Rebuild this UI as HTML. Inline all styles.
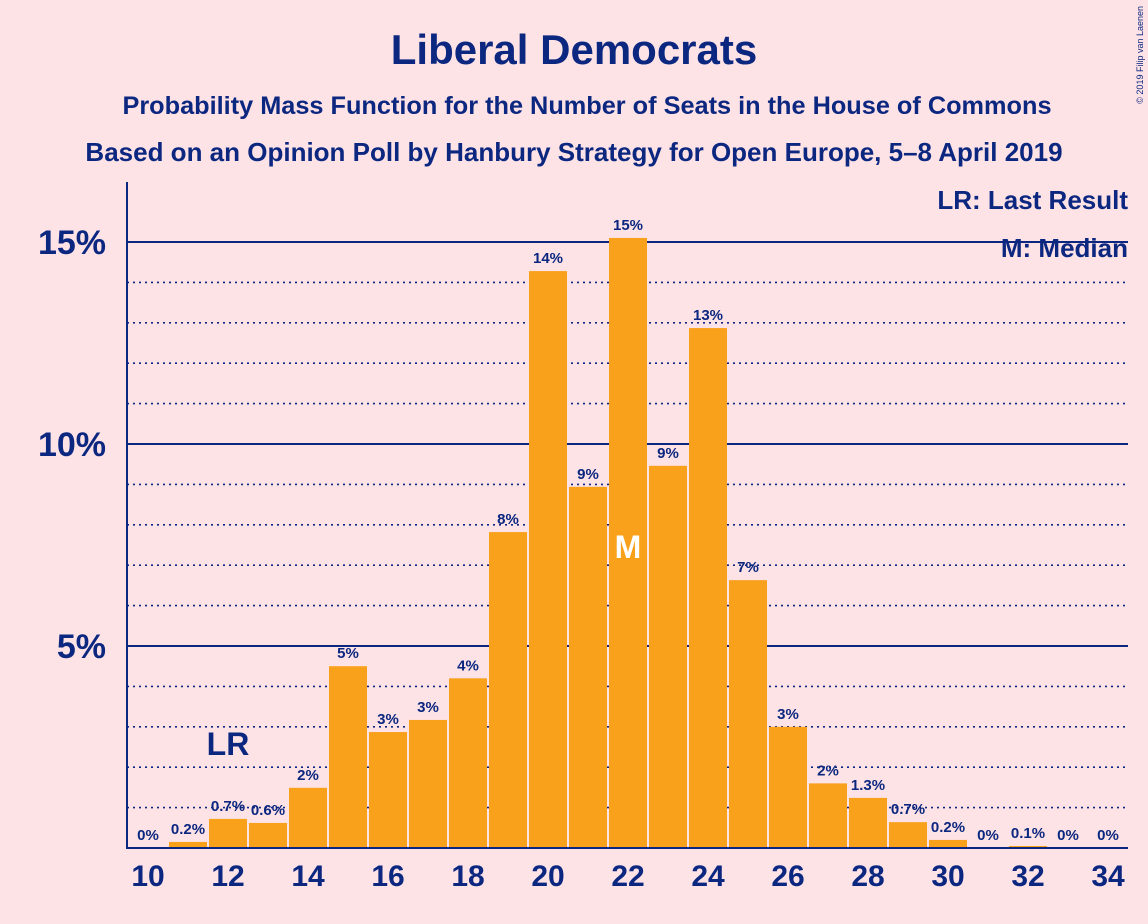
<!DOCTYPE html>
<html><head><meta charset="utf-8"><style>
body{margin:0;background:#fde3e6;}
svg{display:block;font-family:"Liberation Sans",sans-serif;}
</style></head><body>
<svg id="chart" width="1148" height="924" viewBox="0 0 1148 924">
<rect width="1148" height="924" fill="#fde3e6"/>
<text x="574" y="64" text-anchor="middle" font-size="42" font-weight="bold" fill="#0c2780">Liberal Democrats</text>
<text x="587" y="114" text-anchor="middle" font-size="25.3" font-weight="bold" fill="#0c2780">Probability Mass Function for the Number of Seats in the House of Commons</text>
<text x="574" y="161" text-anchor="middle" font-size="26" font-weight="bold" fill="#0c2780">Based on an Opinion Poll by Hanbury Strategy for Open Europe, 5–8 April 2019</text>
<text x="1143" y="6" transform="rotate(-90 1143 6)" text-anchor="end" font-size="9" fill="#0c2780">© 2019 Filip van Laenen</text>
<g id="grid"></g>
<g id="bars"></g>
<g id="labels"></g>
<line x1="127" y1="182" x2="127" y2="849" stroke="#0c2780" stroke-width="2"/>
<line x1="126" y1="848" x2="1128" y2="848" stroke="#0c2780" stroke-width="2"/>
<text x="1128" y="209" text-anchor="end" font-size="26" font-weight="bold" fill="#0c2780">LR: Last Result</text>
<text x="1128" y="257" text-anchor="end" font-size="26" font-weight="bold" fill="#0c2780">M: Median</text>
</svg>
<script>
const seats=[10,11,12,13,14,15,16,17,18,19,20,21,22,23,24,25,26,27,28,29,30,31,32,33,34];
const probs=[0,0.15,0.72,0.62,1.49,4.5,2.87,3.17,4.2,7.82,14.28,8.94,15.1,9.46,12.87,6.63,3.0,1.6,1.24,0.64,0.2,0,0.05,0,0];
const valueLabels=["0%","0.2%","0.7%","0.6%","2%","5%","3%","3%","4%","8%","14%","9%","15%","9%","13%","7%","3%","2%","1.3%","0.7%","0.2%","0%","0.1%","0%","0%"];
const yTicks=[5,10,15];
const xTickSeats=[10,12,14,16,18,20,22,24,26,28,30,32,34];
const lastResult=12, median=22;
const NS="http://www.w3.org/2000/svg";
const x=s=>148+(s-10)*40;
const y=v=>848-v*40.4;
function mk(tag,attrs,parent,txt){const e=document.createElementNS(NS,tag);for(const k in attrs)e.setAttribute(k,attrs[k]);if(txt!==undefined)e.textContent=txt;document.getElementById(parent).appendChild(e);return e;}
const C="#0c2780";
for(let p=1;p<=15;p++){
  const major=p%5===0;
  const l=mk('line',{x1:127,x2:1128,y1:y(p),y2:y(p),stroke:C,'stroke-width':major?2:1.6,'stroke-dasharray':major?'':'2,4'},'grid');
  
  
}
yTicks.forEach(t=>{
  const e=mk('text',{x:106,y:y(t)+12,'text-anchor':'end','font-size':34,'font-weight':'bold',fill:C},'labels',t+'%');
  
  
});
xTickSeats.forEach(s=>{
  const e=mk('text',{x:x(s),y:886,'text-anchor':'middle','font-size':30,'font-weight':'bold',fill:C},'labels',String(s));
  
  
});
seats.forEach((s,i)=>{
  const v=probs[i];
  if(v>0){
    const r=mk('rect',{x:x(s)-19,y:y(v),width:38,height:848-y(v),fill:'#f9a11b'},'bars');
    
    
  }
  const t=mk('text',{x:x(s),y:y(v)-8,'text-anchor':'middle','font-size':15,'font-weight':'bold',fill:C},'labels',valueLabels[i]);
  
  
});
const lr=mk('text',{x:x(lastResult),y:y(probs[seats.indexOf(lastResult)])-64,'text-anchor':'middle','font-size':32,'font-weight':'bold',fill:C},'labels','LR');


const m=mk('text',{x:x(median),y:558,'text-anchor':'middle','font-size':32,'font-weight':'bold',fill:'#ffffff'},'labels','M');


</script>
</body></html>
